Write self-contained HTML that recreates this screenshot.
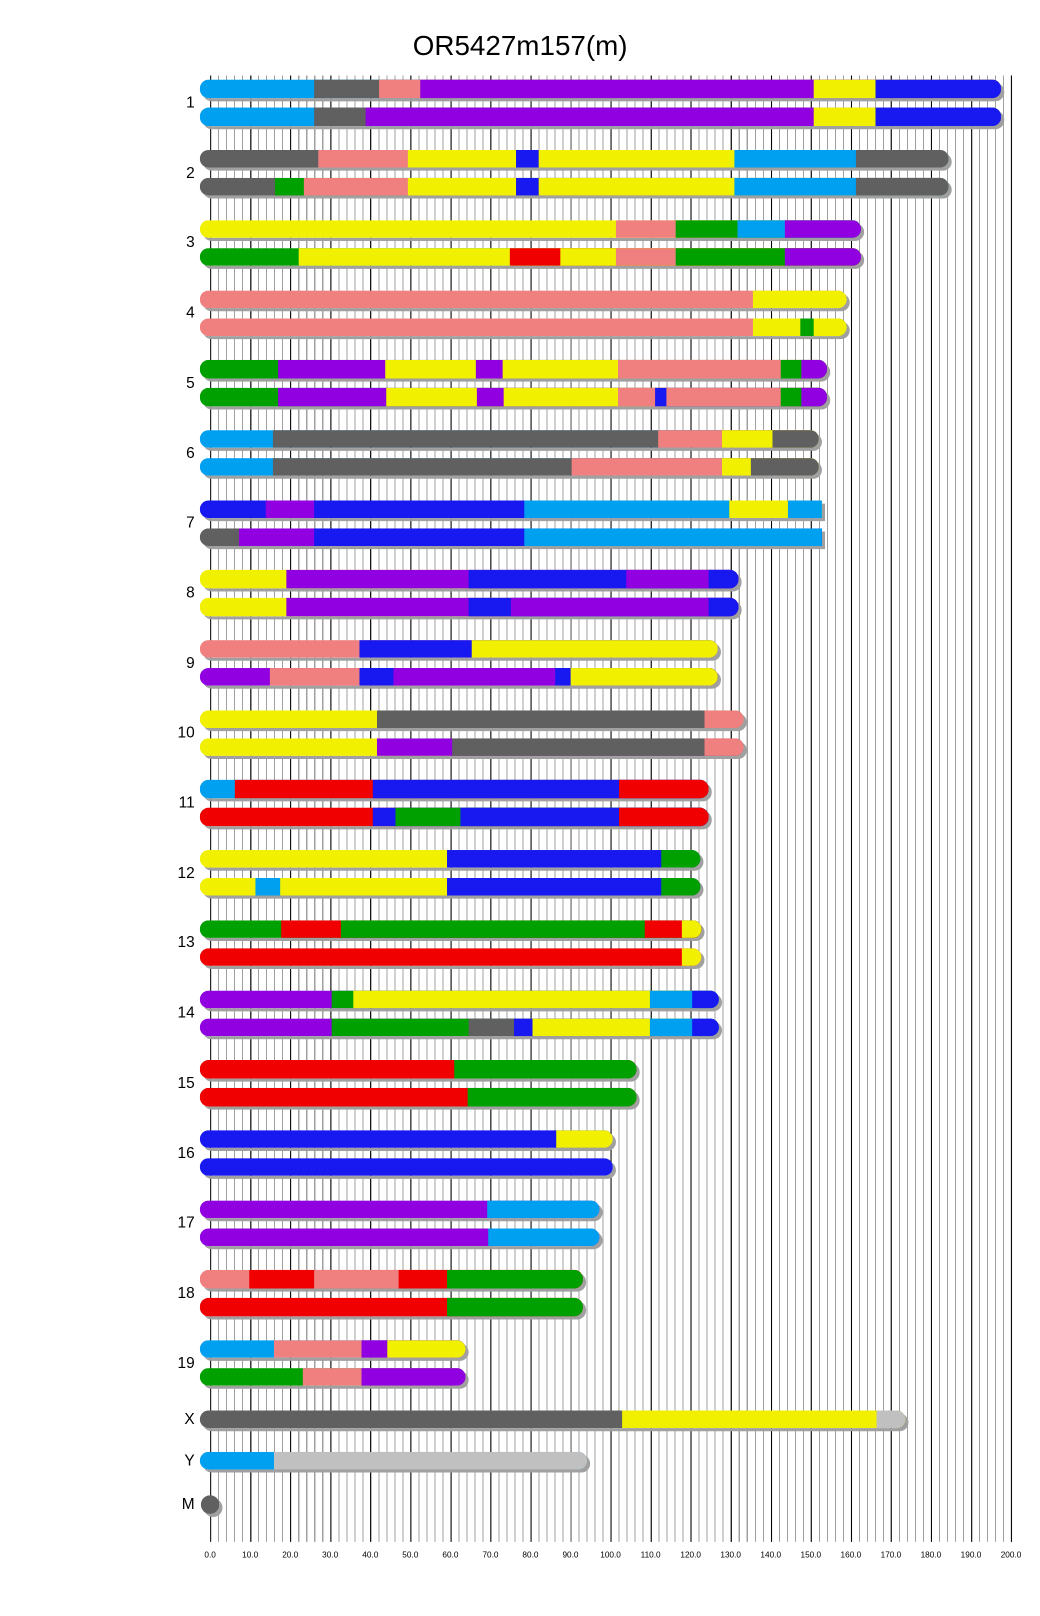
<!DOCTYPE html>
<html><head><meta charset="utf-8">
<style>
html,body{margin:0;padding:0;background:#fff;}
body{width:1040px;height:1616px;overflow:hidden;position:relative;}
#c{position:absolute;left:0;top:0;width:1005.7px;height:1562.7px;transform:scale(1.030,1.0341);transform-origin:0 0;font-family:"Liberation Sans",sans-serif;}
#grid{position:absolute;left:203.5px;top:72.5px;width:779px;height:1418.5px;
background-image:repeating-linear-gradient(to right,#000 0,#000 1px,transparent 1px,transparent 38.88px),
repeating-linear-gradient(to right,#a0a0a0 0,#a0a0a0 1px,transparent 1px,transparent 7.776px);}
.b{position:absolute;left:194px;height:17.4px;border-radius:8.7px;overflow:hidden;box-shadow:3px 3px 0 #a0a0a0;}
.b i{position:absolute;top:0;bottom:0;right:0;}
.sq{border-radius:8.7px 0 0 8.7px;}
.A{background:#00a0f0}.B{background:#1818f0}.P{background:#9000e0}.Y{background:#f0f000}
.S{background:#f08080}.G{background:#606060}.N{background:#00a000}.R{background:#f00000}.L{background:#c0c0c0}
.lab{position:absolute;width:40px;left:149px;text-align:right;font-size:15px;color:#000;}
.t{position:absolute;font-size:8px;color:#000;top:1499px;width:40px;text-align:center;}
#title{position:absolute;left:0;width:1010px;text-align:center;top:29px;font-size:27px;}
</style></head><body><div id="c">
<div id="title">OR5427m157(m)</div>
<div id="grid"></div>

<div class="lab" style="top:91px">1</div>
<div class="b" style="top:77.4px;width:778px"><i class="A" style="left:0"></i><i class="G" style="left:111px"></i><i class="S" style="left:174px"></i><i class="P" style="left:214px"></i><i class="Y" style="left:596px"></i><i class="B" style="left:656px"></i></div>
<div class="b" style="top:104.4px;width:778px"><i class="A" style="left:0"></i><i class="G" style="left:111px"></i><i class="P" style="left:161px"></i><i class="Y" style="left:596px"></i><i class="B" style="left:656px"></i></div>

<div class="lab" style="top:158.7px">2</div>
<div class="b" style="top:145.1px;width:727px"><i class="G" style="left:0"></i><i class="S" style="left:115px"></i><i class="Y" style="left:202px"></i><i class="B" style="left:307px"></i><i class="Y" style="left:329px"></i><i class="A" style="left:519px"></i><i class="G" style="left:637px"></i></div>
<div class="b" style="top:172.1px;width:727px"><i class="G" style="left:0"></i><i class="N" style="left:73px"></i><i class="S" style="left:101px"></i><i class="Y" style="left:202px"></i><i class="B" style="left:307px"></i><i class="Y" style="left:329px"></i><i class="A" style="left:519px"></i><i class="G" style="left:637px"></i></div>

<div class="lab" style="top:226.4px">3</div>
<div class="b" style="top:212.8px;width:642px"><i class="Y" style="left:0"></i><i class="S" style="left:404px"></i><i class="N" style="left:462px"></i><i class="A" style="left:522px"></i><i class="P" style="left:568px"></i></div>
<div class="b" style="top:239.8px;width:642px"><i class="N" style="left:0"></i><i class="Y" style="left:96px"></i><i class="R" style="left:301px"></i><i class="Y" style="left:350px"></i><i class="S" style="left:404px"></i><i class="N" style="left:462px"></i><i class="P" style="left:568px"></i></div>

<div class="lab" style="top:294.1px">4</div>
<div class="b" style="top:280.5px;width:628px"><i class="S" style="left:0"></i><i class="Y" style="left:537px"></i></div>
<div class="b" style="top:307.5px;width:628px"><i class="S" style="left:0"></i><i class="Y" style="left:537px"></i><i class="N" style="left:583px"></i><i class="Y" style="left:596px"></i></div>

<div class="lab" style="top:361.8px">5</div>
<div class="b" style="top:348.2px;width:609px"><i class="N" style="left:0"></i><i class="P" style="left:76px"></i><i class="Y" style="left:180px"></i><i class="P" style="left:268px"></i><i class="Y" style="left:294px"></i><i class="S" style="left:406px"></i><i class="N" style="left:564px"></i><i class="P" style="left:584px"></i></div>
<div class="b" style="top:375.2px;width:609px"><i class="N" style="left:0"></i><i class="P" style="left:76px"></i><i class="Y" style="left:181px"></i><i class="P" style="left:269px"></i><i class="Y" style="left:295px"></i><i class="S" style="left:406px"></i><i class="B" style="left:442px"></i><i class="S" style="left:453px"></i><i class="N" style="left:564px"></i><i class="P" style="left:584px"></i></div>

<div class="lab" style="top:429.5px">6</div>
<div class="b" style="top:415.9px;width:601px"><i class="A" style="left:0"></i><i class="G" style="left:71px"></i><i class="S" style="left:445px"></i><i class="Y" style="left:507px"></i><i class="G" style="left:556px"></i></div>
<div class="b" style="top:442.9px;width:601px"><i class="A" style="left:0"></i><i class="G" style="left:71px"></i><i class="S" style="left:361px"></i><i class="Y" style="left:507px"></i><i class="G" style="left:535px"></i></div>

<div class="lab" style="top:497.2px">7</div>
<div class="b sq" style="top:483.6px;width:604px"><i class="B" style="left:0"></i><i class="P" style="left:64px"></i><i class="B" style="left:111px"></i><i class="A" style="left:315px"></i><i class="Y" style="left:514px"></i><i class="A" style="left:571px"></i></div>
<div class="b sq" style="top:510.6px;width:604px"><i class="G" style="left:0"></i><i class="P" style="left:38px"></i><i class="B" style="left:111px"></i><i class="A" style="left:315px"></i></div>

<div class="lab" style="top:564.9px">8</div>
<div class="b" style="top:551.3px;width:523px"><i class="Y" style="left:0"></i><i class="P" style="left:84px"></i><i class="B" style="left:261px"></i><i class="P" style="left:414px"></i><i class="B" style="left:494px"></i></div>
<div class="b" style="top:578.3px;width:523px"><i class="Y" style="left:0"></i><i class="P" style="left:84px"></i><i class="B" style="left:261px"></i><i class="P" style="left:302px"></i><i class="B" style="left:494px"></i></div>

<div class="lab" style="top:632.6px">9</div>
<div class="b" style="top:619px;width:503px"><i class="S" style="left:0"></i><i class="B" style="left:155px"></i><i class="Y" style="left:264px"></i></div>
<div class="b" style="top:646px;width:503px"><i class="P" style="left:0"></i><i class="S" style="left:68px"></i><i class="B" style="left:155px"></i><i class="P" style="left:188px"></i><i class="B" style="left:345px"></i><i class="Y" style="left:360px"></i></div>

<div class="lab" style="top:700.3px">10</div>
<div class="b" style="top:686.7px;width:528px"><i class="Y" style="left:0"></i><i class="G" style="left:172px"></i><i class="S" style="left:490px"></i></div>
<div class="b" style="top:713.7px;width:528px"><i class="Y" style="left:0"></i><i class="P" style="left:172px"></i><i class="G" style="left:245px"></i><i class="S" style="left:490px"></i></div>

<div class="lab" style="top:768px">11</div>
<div class="b" style="top:754.4px;width:494px"><i class="A" style="left:0"></i><i class="R" style="left:34px"></i><i class="B" style="left:168px"></i><i class="R" style="left:407px"></i></div>
<div class="b" style="top:781.4px;width:494px"><i class="R" style="left:0"></i><i class="B" style="left:168px"></i><i class="N" style="left:190px"></i><i class="B" style="left:253px"></i><i class="R" style="left:407px"></i></div>

<div class="lab" style="top:835.7px">12</div>
<div class="b" style="top:822.1px;width:486px"><i class="Y" style="left:0"></i><i class="B" style="left:240px"></i><i class="N" style="left:448px"></i></div>
<div class="b" style="top:849.1px;width:486px"><i class="Y" style="left:0"></i><i class="A" style="left:54px"></i><i class="Y" style="left:78px"></i><i class="B" style="left:240px"></i><i class="N" style="left:448px"></i></div>

<div class="lab" style="top:903.4px">13</div>
<div class="b" style="top:889.8px;width:487px"><i class="N" style="left:0"></i><i class="R" style="left:79px"></i><i class="N" style="left:137px"></i><i class="R" style="left:432px"></i><i class="Y" style="left:468px"></i></div>
<div class="b" style="top:916.8px;width:487px"><i class="R" style="left:0"></i><i class="Y" style="left:468px"></i></div>

<div class="lab" style="top:971.1px">14</div>
<div class="b" style="top:957.5px;width:504px"><i class="P" style="left:0"></i><i class="N" style="left:128px"></i><i class="Y" style="left:149px"></i><i class="A" style="left:437px"></i><i class="B" style="left:478px"></i></div>
<div class="b" style="top:984.5px;width:504px"><i class="P" style="left:0"></i><i class="N" style="left:128px"></i><i class="G" style="left:261px"></i><i class="B" style="left:305px"></i><i class="Y" style="left:323px"></i><i class="A" style="left:437px"></i><i class="B" style="left:478px"></i></div>

<div class="lab" style="top:1038.8px">15</div>
<div class="b" style="top:1025.2px;width:424px"><i class="R" style="left:0"></i><i class="N" style="left:247px"></i></div>
<div class="b" style="top:1052.2px;width:424px"><i class="R" style="left:0"></i><i class="N" style="left:260px"></i></div>

<div class="lab" style="top:1106.5px">16</div>
<div class="b" style="top:1092.9px;width:401px"><i class="B" style="left:0"></i><i class="Y" style="left:346px"></i></div>
<div class="b" style="top:1119.9px;width:401px"><i class="B" style="left:0"></i></div>

<div class="lab" style="top:1174.2px">17</div>
<div class="b" style="top:1160.6px;width:388px"><i class="P" style="left:0"></i><i class="A" style="left:279px"></i></div>
<div class="b" style="top:1187.6px;width:388px"><i class="P" style="left:0"></i><i class="A" style="left:280px"></i></div>

<div class="lab" style="top:1241.9px">18</div>
<div class="b" style="top:1228.3px;width:372px"><i class="S" style="left:0"></i><i class="R" style="left:48px"></i><i class="S" style="left:111px"></i><i class="R" style="left:193px"></i><i class="N" style="left:240px"></i></div>
<div class="b" style="top:1255.3px;width:372px"><i class="R" style="left:0"></i><i class="N" style="left:240px"></i></div>

<div class="lab" style="top:1309.6px">19</div>
<div class="b" style="top:1296px;width:258px"><i class="A" style="left:0"></i><i class="S" style="left:72px"></i><i class="P" style="left:157px"></i><i class="Y" style="left:182px"></i></div>
<div class="b" style="top:1323px;width:258px"><i class="N" style="left:0"></i><i class="S" style="left:100px"></i><i class="P" style="left:157px"></i></div>

<div class="lab" style="top:1363.5px">X</div>
<div class="b" style="top:1363.5px;width:685px"><i class="G" style="left:0"></i><i class="Y" style="left:410px"></i><i class="L" style="left:657px"></i></div>

<div class="lab" style="top:1404px">Y</div>
<div class="b" style="top:1404px;width:376px"><i class="A" style="left:0"></i><i class="L" style="left:72px"></i></div>

<div class="lab" style="top:1446px">M</div>
<div class="b" style="top:1446px;width:18px;border-radius:9px;height:18px;left:195px"><i class="G" style="left:0"></i></div>

<div class="t" style="left:184px">0.0</div>
<div class="t" style="left:222.9px">10.0</div>
<div class="t" style="left:261.8px">20.0</div>
<div class="t" style="left:300.6px">30.0</div>
<div class="t" style="left:339.5px">40.0</div>
<div class="t" style="left:378.4px">50.0</div>
<div class="t" style="left:417.3px">60.0</div>
<div class="t" style="left:456.2px">70.0</div>
<div class="t" style="left:495px">80.0</div>
<div class="t" style="left:533.9px">90.0</div>
<div class="t" style="left:572.8px">100.0</div>
<div class="t" style="left:611.7px">110.0</div>
<div class="t" style="left:650.6px">120.0</div>
<div class="t" style="left:689.4px">130.0</div>
<div class="t" style="left:728.3px">140.0</div>
<div class="t" style="left:767.2px">150.0</div>
<div class="t" style="left:806.1px">160.0</div>
<div class="t" style="left:845px">170.0</div>
<div class="t" style="left:883.8px">180.0</div>
<div class="t" style="left:922.7px">190.0</div>
<div class="t" style="left:961.6px">200.0</div>
</div></body></html>
